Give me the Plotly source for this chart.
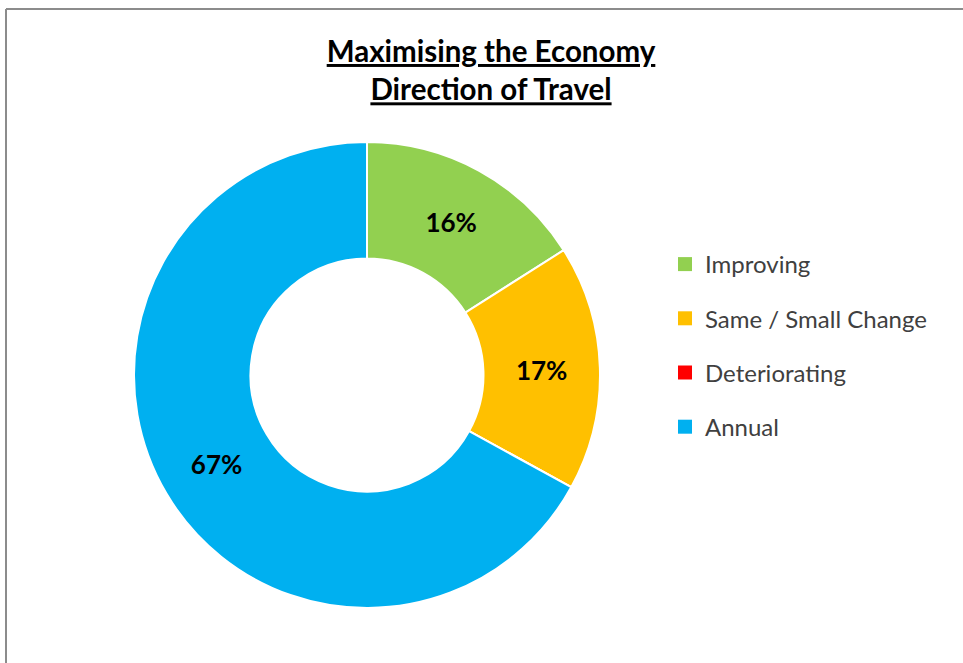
import plotly.graph_objects as go

categories = ["Improving", "Same / Small Change", "Deteriorating", "Annual"]
values = [16, 17, 0, 67]
colors = ["#92D050", "#FFC000", "#FF0000", "#00B0F0"]
title_lines = ["Maximising the Economy", "Direction of Travel"]

W, H = 963, 663
fig = go.Figure()

text_labels = [f"{v}%" if v > 0 else "" for v in values]

fig.add_trace(go.Pie(
    labels=categories, values=values, hole=0.5, sort=False,
    direction="clockwise", rotation=0,
    marker=dict(colors=colors, line=dict(color="white", width=2)),
    text=text_labels, textinfo="text", textposition="inside",
    insidetextorientation="horizontal",
    textfont=dict(family="Lato", size=26, color="black", weight="bold"),
    showlegend=False,
    domain=dict(x=[134 / W, 600 / W], y=[1 - 608 / H, 1 - 142 / H]),
))

# legend entries (square markers) drawn from the same category list
for name, c in zip(categories, colors):
    fig.add_trace(go.Scatter(
        x=[None], y=[None], mode="markers", name=name, legendgroup=name,
        marker=dict(symbol="square", size=14, color=c),
    ))

fig.update_layout(
    width=W, height=H,
    margin=dict(l=0, r=0, t=0, b=0),
    paper_bgcolor="white", plot_bgcolor="white",
    xaxis=dict(visible=False), yaxis=dict(visible=False),
    title=dict(
        text="<br>".join(f"<u>{t}</u>" for t in title_lines),
        x=491 / W, xanchor="center", y=1 - 62 / H, yanchor="top",
        font=dict(family="Lato", size=29.5, color="black", weight="bold"),
    ),
    legend=dict(
        x=665 / W, xanchor="left", y=1 - 242 / H, yanchor="top",
        font=dict(family="Lato", size=24, color="#404040"),
        tracegroupgap=20, itemwidth=30,
        bgcolor="rgba(0,0,0,0)",
    ),
    shapes=[
        dict(type="line", xref="paper", yref="paper", x0=6 / W, x1=6 / W, y0=0, y1=1 - 9 / H,
             line=dict(color="#8C8C8C", width=2)),
        dict(type="line", xref="paper", yref="paper", x0=6 / W, x1=1, y0=1 - 9 / H, y1=1 - 9 / H,
             line=dict(color="#8C8C8C", width=2)),
    ],
)

fig.write_html("out.html")
